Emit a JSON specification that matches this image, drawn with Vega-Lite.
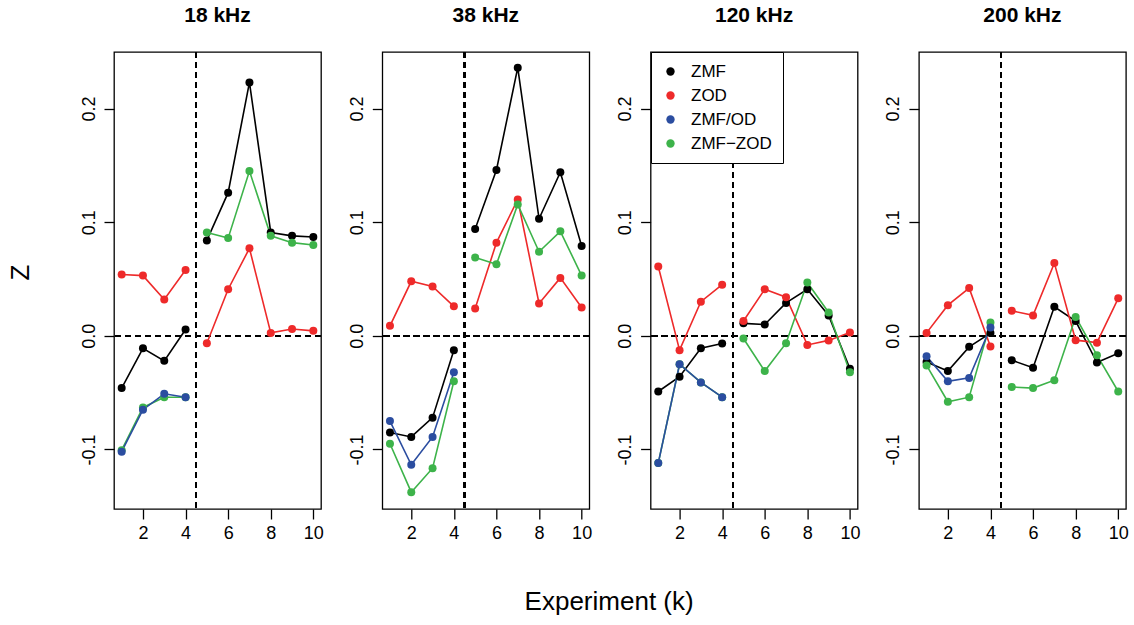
{
  "$schema": "https://vega.github.io/schema/vega-lite/v6.json",
  "autosize": {"type": "pad"},
  "padding": {"left": 8, "top": 5, "right": 5, "bottom": 5},
  "data": {"values": [
    {"f": "18 kHz", "k": 1, "mf": -0.046, "od": 0.054, "d": -0.1006, "r": -0.102},
    {"f": "18 kHz", "k": 2, "mf": -0.011, "od": 0.053, "d": -0.063, "r": -0.065},
    {"f": "18 kHz", "k": 3, "mf": -0.022, "od": 0.032, "d": -0.054, "r": -0.051},
    {"f": "18 kHz", "k": 4, "mf": 0.0056, "od": 0.058, "d": -0.054, "r": -0.054},
    {"f": "18 kHz", "k": 5, "mf": 0.084, "od": -0.0065, "d": 0.091, "r": null},
    {"f": "18 kHz", "k": 6, "mf": 0.126, "od": 0.041, "d": 0.086, "r": null},
    {"f": "18 kHz", "k": 7, "mf": 0.223, "od": 0.077, "d": 0.145, "r": null},
    {"f": "18 kHz", "k": 8, "mf": 0.091, "od": 0.0026, "d": 0.088, "r": null},
    {"f": "18 kHz", "k": 9, "mf": 0.088, "od": 0.006, "d": 0.082, "r": null},
    {"f": "18 kHz", "k": 10, "mf": 0.087, "od": 0.0044, "d": 0.080, "r": null},
    {"f": "38 kHz", "k": 1, "mf": -0.085, "od": 0.0088, "d": -0.095, "r": -0.075},
    {"f": "38 kHz", "k": 2, "mf": -0.089, "od": 0.048, "d": -0.1376, "r": -0.1135},
    {"f": "38 kHz", "k": 3, "mf": -0.072, "od": 0.0435, "d": -0.1165, "r": -0.089},
    {"f": "38 kHz", "k": 4, "mf": -0.0126, "od": 0.026, "d": -0.040, "r": -0.032},
    {"f": "38 kHz", "k": 5, "mf": 0.094, "od": 0.024, "d": 0.069, "r": null},
    {"f": "38 kHz", "k": 6, "mf": 0.146, "od": 0.082, "d": 0.063, "r": null},
    {"f": "38 kHz", "k": 7, "mf": 0.236, "od": 0.120, "d": 0.1156, "r": null},
    {"f": "38 kHz", "k": 8, "mf": 0.103, "od": 0.0285, "d": 0.074, "r": null},
    {"f": "38 kHz", "k": 9, "mf": 0.144, "od": 0.051, "d": 0.092, "r": null},
    {"f": "38 kHz", "k": 10, "mf": 0.079, "od": 0.025, "d": 0.053, "r": null},
    {"f": "120 kHz", "k": 1, "mf": -0.049, "od": 0.061, "d": -0.112, "r": -0.112},
    {"f": "120 kHz", "k": 2, "mf": -0.036, "od": -0.0126, "d": -0.025, "r": -0.025},
    {"f": "120 kHz", "k": 3, "mf": -0.011, "od": 0.030, "d": -0.041, "r": -0.041},
    {"f": "120 kHz", "k": 4, "mf": -0.0068, "od": 0.045, "d": -0.054, "r": -0.054},
    {"f": "120 kHz", "k": 5, "mf": 0.011, "od": 0.013, "d": -0.0024, "r": null},
    {"f": "120 kHz", "k": 6, "mf": 0.010, "od": 0.041, "d": -0.031, "r": null},
    {"f": "120 kHz", "k": 7, "mf": 0.029, "od": 0.034, "d": -0.0065, "r": null},
    {"f": "120 kHz", "k": 8, "mf": 0.041, "od": -0.008, "d": 0.047, "r": null},
    {"f": "120 kHz", "k": 9, "mf": 0.018, "od": -0.004, "d": 0.0206, "r": null},
    {"f": "120 kHz", "k": 10, "mf": -0.029, "od": 0.003, "d": -0.032, "r": null},
    {"f": "200 kHz", "k": 1, "mf": -0.023, "od": 0.0026, "d": -0.026, "r": -0.018},
    {"f": "200 kHz", "k": 2, "mf": -0.031, "od": 0.027, "d": -0.058, "r": -0.040},
    {"f": "200 kHz", "k": 3, "mf": -0.0097, "od": 0.042, "d": -0.054, "r": -0.037},
    {"f": "200 kHz", "k": 4, "mf": 0.0024, "od": -0.0094, "d": 0.0118, "r": 0.0074},
    {"f": "200 kHz", "k": 5, "mf": -0.0215, "od": 0.022, "d": -0.045, "r": null},
    {"f": "200 kHz", "k": 6, "mf": -0.028, "od": 0.018, "d": -0.046, "r": null},
    {"f": "200 kHz", "k": 7, "mf": 0.0256, "od": 0.064, "d": -0.039, "r": null},
    {"f": "200 kHz", "k": 8, "mf": 0.013, "od": -0.0038, "d": 0.0165, "r": null},
    {"f": "200 kHz", "k": 9, "mf": -0.0235, "od": -0.006, "d": -0.017, "r": null},
    {"f": "200 kHz", "k": 10, "mf": -0.0153, "od": 0.033, "d": -0.049, "r": null}
  ]},
  "transform": [
    {"fold": ["mf", "od", "d", "r"], "as": ["s", "z"]},
    {"filter": "isValid(datum.z)"},
    {"calculate": "datum.k <= 4 ? 'pre' : 'post'", "as": "seg"},
    {"calculate": "'Z'", "as": "zl"}
  ],
  "facet": {
    "column": {
      "field": "f", "type": "nominal",
      "sort": ["18 kHz", "38 kHz", "120 kHz", "200 kHz"],
      "title": null,
      "header": {"labelFontSize": 21, "labelFontWeight": "bold", "labelPadding": 26, "labelColor": "black", "labelFont": "Liberation Sans"}
    },
    "row": {
      "field": "zl", "type": "nominal", "title": null,
      "header": {"labelAngle": -90, "labelFontSize": 26, "labelPadding": 67, "labelOrient": "left", "labelAlign": "left", "labelColor": "black", "labelFont": "Liberation Sans"}
    }
  },
  "spacing": {"column": 61.3, "row": 0},
  "bounds": "flush",
  "resolve": {"axis": {"y": "independent"}},
  "title": {"text": "Experiment (k)", "orient": "bottom", "fontSize": 26, "fontWeight": "normal", "font": "Liberation Sans", "color": "black", "offset": 47, "anchor": "middle", "dx": 41},
  "spec": {
    "width": 207,
    "height": 457,
    "layer": [
      {
        "mark": {"type": "rule", "strokeDash": [6, 4], "strokeWidth": 1.2, "color": "black"},
        "encoding": {"y": {"datum": 0, "type": "quantitative"}}
      },
      {
        "mark": {"type": "rule", "strokeDash": [6, 4], "strokeWidth": 1.2, "color": "black"},
        "encoding": {"x": {"datum": 4.5, "type": "quantitative"}}
      },
      {
        "mark": {"type": "line", "strokeWidth": 1.6},
        "encoding": {
          "x": {"field": "k", "type": "quantitative", "scale": {"domain": [0.64, 10.36], "nice": false, "zero": false}, "axis": {"values": [2, 4, 6, 8, 10], "title": null}},
          "y": {"field": "z", "type": "quantitative", "scale": {"domain": [-0.1524, 0.2498], "nice": false, "zero": false}, "axis": {"values": [-0.1, 0, 0.1, 0.2], "title": null, "labelAngle": -90, "labelAlign": "center", "labelBaseline": "alphabetic", "labelPadding": 10, "labelExpr": "datum.value < 0 ? '-' + format(-datum.value, '.1f') : format(datum.value, '.1f')"}},
          "color": {
            "field": "s", "type": "nominal",
            "scale": {"domain": ["mf", "od", "r", "d"], "range": ["#000000", "#EE2A2A", "#2B4DA0", "#3DB34A"]},
            "legend": {
              "orient": "none", "legendX": 537, "legendY": 0, "title": null,
              "labelExpr": "datum.label == 'mf' ? 'ZMF' : datum.label == 'od' ? 'ZOD' : datum.label == 'r' ? 'ZMF/OD' : 'ZMF−ZOD'",
              "labelFontSize": 17, "labelFont": "Liberation Sans", "labelColor": "black",
              "symbolType": "circle", "symbolSize": 70, "symbolStrokeWidth": 0,
              "strokeColor": "black", "fillColor": "white", "padding": 11, "rowPadding": 6, "labelOffset": 12
            }
          },
          "detail": {"field": "seg", "type": "nominal"}
        }
      },
      {
        "mark": {"type": "point", "filled": true, "size": 64, "opacity": 1},
        "encoding": {
          "x": {"field": "k", "type": "quantitative"},
          "y": {"field": "z", "type": "quantitative"},
          "color": {"field": "s", "type": "nominal"}
        }
      }
    ]
  },
  "config": {
    "font": "Liberation Sans",
    "view": {"stroke": "black", "strokeWidth": 1.3},
    "axis": {
      "grid": false, "domain": false, "ticks": true,
      "tickColor": "black", "tickSize": 10, "tickWidth": 1.3,
      "labelFontSize": 18, "labelColor": "black", "labelFont": "Liberation Sans"
    },
    "axisX": {"labelPadding": 5, "labelBaseline": "top"}
  }
}
